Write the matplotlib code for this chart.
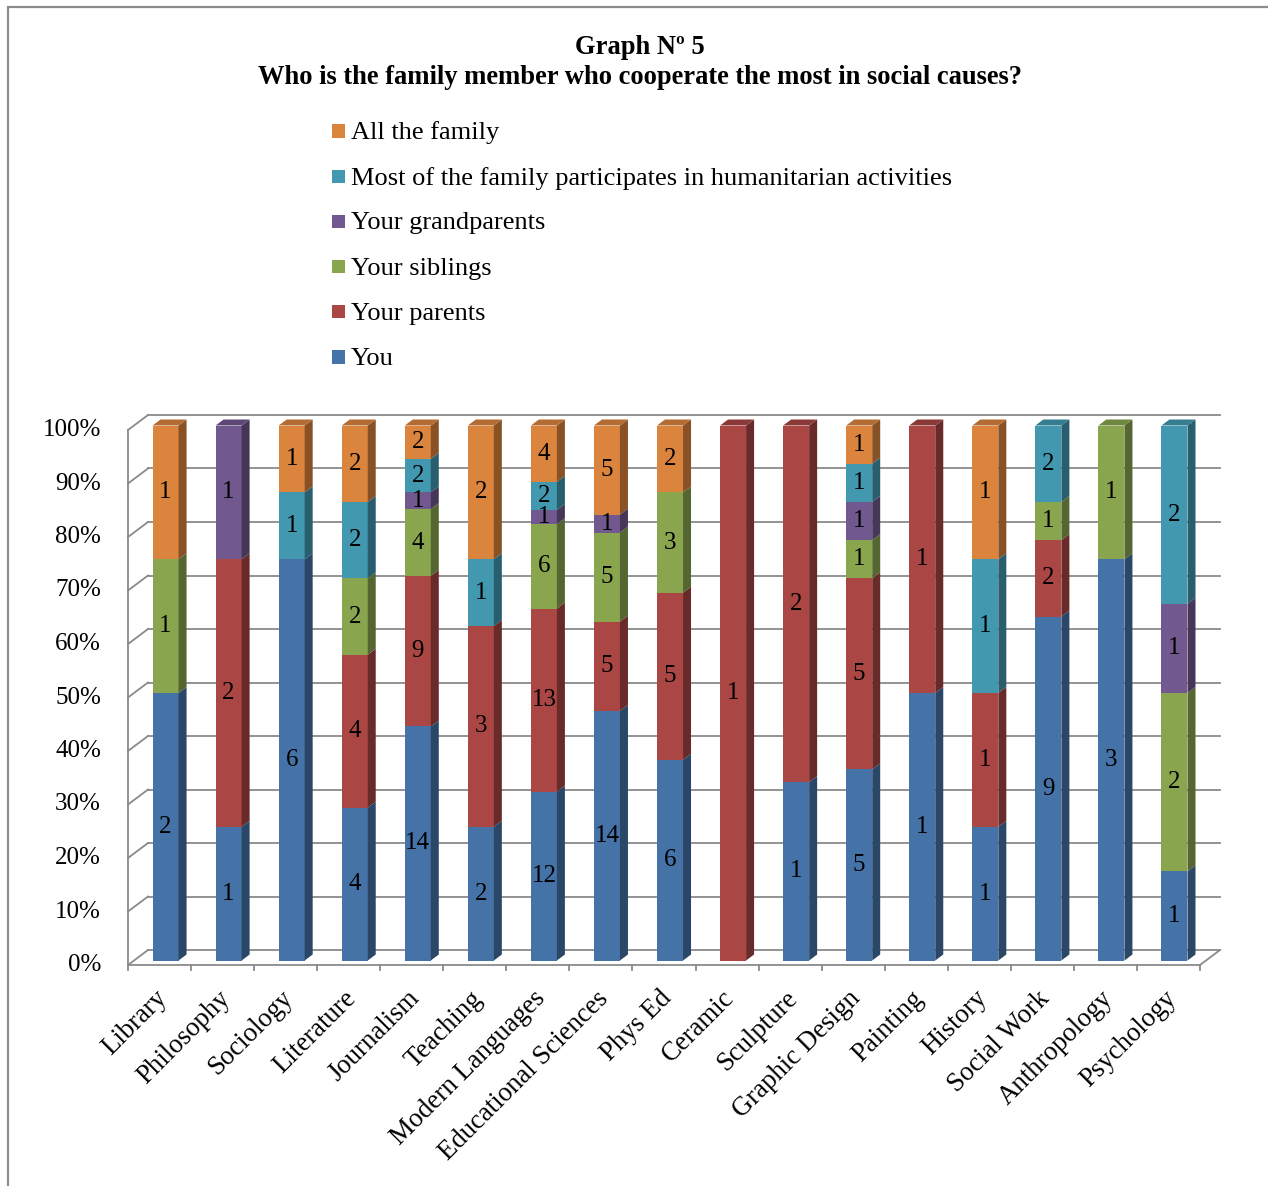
import matplotlib
matplotlib.use('Agg')
import matplotlib.pyplot as plt
import numpy as np
from matplotlib.patches import Polygon, Rectangle
from matplotlib.colors import to_rgb

plt.rcParams['font.family'] = ['Liberation Serif', 'DejaVu Serif']

# 数据：每个专业各家庭成员的人数
careers = ['Library', 'Philosophy', 'Sociology', 'Literature', 'Journalism', 'Teaching',
           'Modern Languages', 'Educational Sciences', 'Phys Ed', 'Ceramic', 'Sculpture',
           'Graphic Design', 'Painting', 'History', 'Social Work', 'Anthropology', 'Psychology']
series_names = ['You', 'Your parents', 'Your siblings', 'Your grandparents',
                'Most of the family participates in humanitarian activities', 'All the family']
you          = [2, 1, 6, 4, 14, 2, 12, 14, 6, 0, 1, 5, 1, 1, 9, 3, 1]
parents      = [0, 2, 0, 4, 9, 3, 13, 5, 5, 1, 2, 5, 1, 1, 2, 0, 0]
siblings     = [1, 0, 0, 2, 4, 0, 6, 5, 3, 0, 0, 1, 0, 0, 1, 1, 2]
grandparents = [0, 1, 0, 0, 1, 0, 1, 1, 0, 0, 0, 1, 0, 0, 0, 0, 1]
most_family  = [0, 0, 1, 2, 2, 1, 2, 0, 0, 0, 0, 1, 0, 1, 2, 0, 2]
all_family   = [1, 0, 1, 2, 2, 2, 4, 5, 2, 0, 0, 1, 0, 1, 0, 0, 0]
colors = ['#4572A7', '#AA4643', '#89A54E', '#71588F', '#4198AF', '#DB843D']

counts = np.array([you, parents, siblings, grandparents, most_family, all_family], dtype=float)
pct = counts / counts.sum(axis=0) * 100
yticks = np.arange(0, 101, 10)

W, H = 1268, 1186
fig = plt.figure(figsize=(W / 100, H / 100), dpi=100)
fig.patches.append(Rectangle((8 / W, -0.05), 1, 1.05 - 7 / H, transform=fig.transFigure,
                             fill=False, edgecolor='#8c8c8c', linewidth=1.6))

# 前平面：x 为类别序号，y 为百分比
ax = fig.add_axes([128 / W, (H - 965) / H, 1072 / W, 535 / H])
n = len(careers)
ax.set_xlim(0, n)
ax.set_ylim(0, 100)
ax.axis('off')

# 3D 深度偏移（数据单位）
DX = 20 / 63
DY = 15 / 5.35
grid_c = '#8a8a8a'
kw = dict(color=grid_c, lw=1.3, clip_on=False, zorder=1)

for v in yticks:
    ax.plot([DX, n + DX], [v + DY, v + DY], **kw)
    ax.plot([0, DX], [v, v + DY], **kw)
    ax.text(-0.43, v, f'{v}%', ha='right', va='center', fontsize=18)
ax.plot([0, 0], [0, 100], **kw)
ax.plot([0, n], [0, 0], **kw)
ax.plot([n, n + DX], [0, DY], **kw)
for k in range(n + 1):
    ax.plot([k, k], [0, -1.0], **kw)


def shade(c, f):
    return tuple(np.array(to_rgb(c)) * f)


d0, d1 = 0.3, 0.7
w = 26 / 63
for i in range(n):
    x0 = i + 0.5 - w / 2 + d0 * DX
    x1 = x0 + w
    ox, oy = (d1 - d0) * DX, (d1 - d0) * DY
    bottom = 0
    top_idx = max(s for s in range(len(series_names)) if counts[s, i] > 0)
    for s in range(len(series_names)):
        if counts[s, i] == 0:
            continue
        y0 = bottom + d0 * DY
        y1 = bottom + pct[s, i] + d0 * DY
        c = colors[s]
        ax.add_patch(Polygon([(x0, y0), (x1, y0), (x1, y1), (x0, y1)], closed=True,
                             facecolor=c, edgecolor='none', clip_on=False, zorder=3))
        ax.add_patch(Polygon([(x1, y0), (x1, y1), (x1 + ox, y1 + oy), (x1 + ox, y0 + oy)],
                             closed=True, facecolor=shade(c, 0.62), edgecolor='none',
                             clip_on=False, zorder=3))
        if s == top_idx:
            ax.add_patch(Polygon([(x0, y1), (x1, y1), (x1 + ox, y1 + oy), (x0 + ox, y1 + oy)],
                                 closed=True, facecolor=shade(c, 0.82), edgecolor='none',
                                 clip_on=False, zorder=3))
        ax.text((x0 + x1) / 2, (y0 + y1) / 2, f'{int(counts[s, i])}', ha='center',
                va='center', fontsize=18, zorder=4)
        bottom += pct[s, i]
    ax.text(i + 0.42, -3.9, careers[i], rotation=45, rotation_mode='anchor',
            ha='right', va='top', fontsize=19.3)

# 图例（倒序）
for r, s in enumerate(range(len(series_names) - 1, -1, -1)):
    yc = 131 + r * 45.2
    fig.patches.append(Rectangle((332 / W, 1 - (yc + 6.5) / H), 13 / W, 13 / H,
                                 transform=fig.transFigure, facecolor=colors[s],
                                 edgecolor='none'))
    fig.text(351 / W, 1 - (yc + 2) / H, series_names[s], ha='left', va='center', fontsize=19)

fig.text(640 / W, 1 - 47 / H, 'Graph Nº 5', ha='center', va='center',
         fontsize=19.1, fontweight='bold')
fig.text(640 / W, 1 - 77 / H,
         'Who is the family member who cooperate the most in social causes?',
         ha='center', va='center', fontsize=19.1, fontweight='bold')

fig.savefig('out.png', dpi=100)
